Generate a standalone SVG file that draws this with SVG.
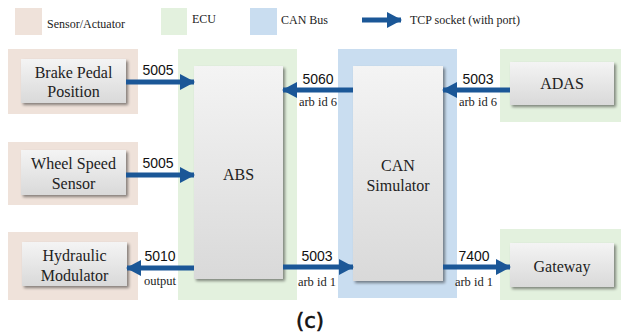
<svg xmlns="http://www.w3.org/2000/svg" width="621" height="336" viewBox="0 0 621 336">
<defs>
<linearGradient id="g" x1="0" y1="0" x2="0" y2="1">
<stop offset="0" stop-color="#f4f4f4"/>
<stop offset="1" stop-color="#d9d9d9"/>
</linearGradient>
<filter id="sh" x="-20%" y="-20%" width="140%" height="140%">
<feGaussianBlur in="SourceAlpha" stdDeviation="1.5"/>
<feOffset dx="1.5" dy="2" result="b"/>
<feComponentTransfer><feFuncA type="linear" slope="0.45"/></feComponentTransfer>
<feMerge><feMergeNode/><feMergeNode in="SourceGraphic"/></feMerge>
</filter>
<marker id="ah" markerUnits="userSpaceOnUse" markerWidth="15" markerHeight="16" refX="14" refY="8" orient="auto">
<path d="M0,0 L15,8 L0,16 Z" fill="#1b5797"/>
</marker>
<style>
.sens{fill:#efe2da}
.ecu{fill:#e3f1de}
.can{fill:#c9ddf0}
.box{fill:url(#g);filter:url(#sh)}
.t{font-family:'Liberation Serif','Times New Roman',serif;font-size:16px;fill:#222;text-anchor:middle}
.lg{font-family:'Liberation Serif','Times New Roman',serif;font-size:12px;fill:#222}
.n{font-family:'Liberation Sans',Arial,sans-serif;font-size:14px;fill:#111;text-anchor:middle}
.s{font-family:'Liberation Serif','Times New Roman',serif;font-size:12.5px;fill:#222;text-anchor:middle}
.ar{stroke:#1b5797;stroke-width:5;fill:none;marker-end:url(#ah)}
</style>
</defs>
<rect width="621" height="336" fill="#fff"/>
<g id="legend">
<rect class="sens" x="15" y="8" width="27" height="27"/>
<text class="lg" x="47" y="28">Sensor/Actuator</text>
<rect class="ecu" x="161" y="8" width="26" height="27"/>
<text class="lg" x="192" y="23">ECU</text>
<rect class="can" x="250" y="8" width="27" height="27"/>
<text class="lg" x="281" y="24">CAN Bus</text>
<line class="ar" x1="362" y1="20" x2="401" y2="20"/>
<text class="lg" x="410" y="24">TCP socket (with port)</text>
</g>
<g id="brake">
<rect class="sens" x="8" y="49" width="130" height="65"/>
<rect class="box" x="21" y="59" width="105" height="44"/>
<text class="t" x="73.5" y="78">Brake Pedal</text>
<text class="t" x="73.5" y="97">Position</text>
</g>
<g id="wheel">
<rect class="sens" x="8" y="142" width="130" height="63"/>
<rect class="box" x="21" y="150" width="105" height="45"/>
<text class="t" x="73.5" y="169">Wheel Speed</text>
<text class="t" x="73.5" y="189">Sensor</text>
</g>
<g id="hydraulic">
<rect class="sens" x="8" y="232" width="130" height="68"/>
<rect class="box" x="22" y="242" width="105" height="44"/>
<text class="t" x="74.5" y="261">Hydraulic</text>
<text class="t" x="74.5" y="281">Modulator</text>
</g>
<g id="abs">
<rect class="ecu" x="178" y="49" width="119" height="251"/>
<rect class="box" x="194" y="66" width="89" height="213"/>
<text class="t" x="238.5" y="180">ABS</text>
</g>
<g id="can">
<rect class="can" x="338" y="49" width="119" height="249"/>
<rect class="box" x="353" y="66" width="90" height="215"/>
<text class="t" x="398" y="171">CAN</text>
<text class="t" x="398" y="191">Simulator</text>
</g>
<g id="adas">
<rect class="ecu" x="500" y="49" width="121" height="73"/>
<rect class="box" x="510" y="62" width="104" height="43"/>
<text class="t" x="562" y="89">ADAS</text>
</g>
<g id="gateway">
<rect class="ecu" x="500" y="229" width="121" height="71"/>
<rect class="box" x="510" y="243" width="104" height="44"/>
<text class="t" x="562" y="272">Gateway</text>
</g>
<g id="connectors">
<line class="ar" x1="126" y1="82" x2="194" y2="82"/>
<line class="ar" x1="126" y1="175" x2="194" y2="175"/>
<line class="ar" x1="194" y1="268" x2="127" y2="268"/>
<line class="ar" x1="353" y1="90" x2="283" y2="90"/>
<line class="ar" x1="510" y1="90" x2="443" y2="90"/>
<line class="ar" x1="283" y1="267" x2="353" y2="267"/>
<line class="ar" x1="443" y1="267" x2="510" y2="267"/>
<text class="n" x="158" y="75">5005</text>
<text class="n" x="158" y="168">5005</text>
<text class="n" x="160" y="261">5010</text>
<text class="s" x="160" y="285">output</text>
<text class="n" x="318" y="84">5060</text>
<text class="s" x="318" y="106">arb id 6</text>
<text class="n" x="478" y="84">5003</text>
<text class="s" x="478" y="106">arb id 6</text>
<text class="n" x="317" y="261">5003</text>
<text class="s" x="317" y="286">arb id 1</text>
<text class="n" x="474" y="261">7400</text>
<text class="s" x="474" y="286">arb id 1</text>
</g>
<text x="310" y="328" font-family="DejaVu Sans, sans-serif" font-size="21" text-anchor="middle" fill="#111" stroke="#111" stroke-width="0.6">(c)</text>
</svg>
